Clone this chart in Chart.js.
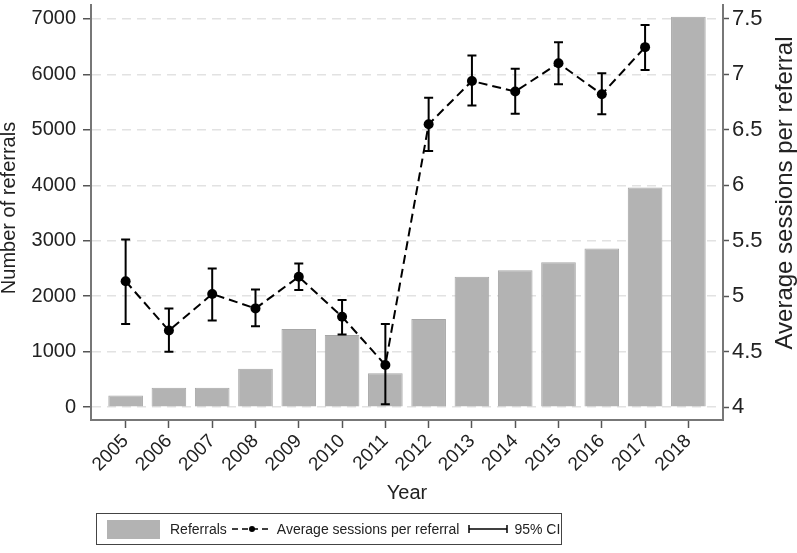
<!DOCTYPE html>
<html>
<head>
<meta charset="utf-8">
<script src="https://cdn.jsdelivr.net/npm/chart.js@4.4.1/dist/chart.umd.min.js"></script>
<style>
    html, body { margin: 0; padding: 0; background: #fff; }
    #wrap { position: relative; width: 797px; height: 553px; }
    #legend {
        position: absolute; left: 96px; top: 513px; width: 464px; height: 30px;
        border: 1px solid #444; display: flex; align-items: center; white-space: nowrap;
        font-family: "Liberation Sans", Arial, sans-serif; font-size: 14px; color: #222;
        box-sizing: content-box;
    }
    #legend .swatch { width: 53px; height: 19px; background: #b3b3b3; margin-left: 10px; margin-right: 10px; }
    #legend svg { display: block; }
</style>
</head>
<body>
<div id="wrap">
    <canvas id="chart"></canvas>
    <div id="legend">
        <div class="swatch"></div>
        <span>Referrals</span>
        <svg width="42" height="12" style="margin: 0 4px"><line x1="1" y1="6" x2="41" y2="6" stroke="#000" stroke-width="1.5" stroke-dasharray="6,4"/><circle cx="21" cy="6" r="3" fill="#000"/></svg>
        <span>Average sessions per referral</span>
        <svg width="40" height="12" style="margin: 0 6px 0 9px"><line x1="1" y1="6" x2="39" y2="6" stroke="#000" stroke-width="1.5"/><line x1="1" y1="2" x2="1" y2="10" stroke="#000" stroke-width="1.5"/><line x1="39" y1="2" x2="39" y2="10" stroke="#000" stroke-width="1.5"/></svg>
        <span>95% CI</span>
    </div>
</div>
<script>
const years = [2005, 2006, 2007, 2008, 2009, 2010, 2011, 2012, 2013, 2014, 2015, 2016, 2017, 2018];
const referrals = [210, 350, 350, 690, 1410, 1300, 610, 1590, 2350, 2470, 2610, 2860, 3960, 7040];
const sessionYears = [2005, 2006, 2007, 2008, 2009, 2010, 2011, 2012, 2013, 2014, 2015, 2016, 2017];
const avgSessions = [5.135, 4.69, 5.02, 4.89, 5.175, 4.815, 4.38, 6.55, 6.94, 6.845, 7.1, 6.82, 7.245];
const ciLow = [4.75, 4.5, 4.78, 4.73, 5.055, 4.655, 4.025, 6.31, 6.72, 6.645, 6.91, 6.64, 7.04];
const ciHigh = [5.51, 4.89, 5.25, 5.06, 5.295, 4.965, 4.75, 6.79, 7.17, 7.05, 7.29, 7.01, 7.445];
const leftTicks = [0, 1000, 2000, 3000, 4000, 5000, 6000, 7000];
const rightTicks = [4, 4.5, 5, 5.5, 6, 6.5, 7, 7.5];

const FONT = '"Liberation Sans", Arial, sans-serif';
Chart.defaults.font.family = FONT;
Chart.defaults.color = '#222';

const errorBars = {
    id: 'errorBars',
    afterDatasetsDraw(chart) {
        const ctx = chart.ctx;
        const xs = chart.scales.x, ys = chart.scales.y2;
        ctx.save();
        ctx.strokeStyle = '#000';
        ctx.lineWidth = 2;
        sessionYears.forEach((yr, i) => {
            const x = xs.getPixelForValue(yr);
            const lo = ys.getPixelForValue(ciLow[i]);
            const hi = ys.getPixelForValue(ciHigh[i]);
            ctx.beginPath();
            ctx.moveTo(x, lo); ctx.lineTo(x, hi);
            ctx.moveTo(x - 4.5, lo); ctx.lineTo(x + 4.5, lo);
            ctx.moveTo(x - 4.5, hi); ctx.lineTo(x + 4.5, hi);
            ctx.stroke();
        });
        ctx.restore();
    }
};

// y titles drawn by hand, both read bottom-to-top
const axisTitles = {
    id: 'axisTitles',
    afterDraw(chart) {
        const ctx = chart.ctx;
        const put = (text, size, x, y) => {
            ctx.save();
            ctx.font = size + 'px ' + FONT;
            ctx.fillStyle = '#222';
            ctx.textAlign = 'center';
            ctx.textBaseline = 'middle';
            ctx.translate(x, y);
            ctx.rotate(-Math.PI / 2);
            ctx.fillText(text, 0, 0);
            ctx.restore();
        };
        put('Number of referrals', 20, 9, 208);
        put('Average sessions per referral', 24, 785, 193);
    }
};

const fixBox = (w, h) => (s) => {
    if (w !== null) s.width = w;
    if (h !== null) s.height = h;
    s.paddingTop = 0; s.paddingBottom = 0; s.paddingLeft = 0; s.paddingRight = 0;
};

new Chart(document.getElementById('chart'), {
    data: {
        datasets: [{
            type: 'line',
            label: 'Average sessions per referral',
            data: sessionYears.map((x, i) => ({ x: x, y: avgSessions[i] })),
            yAxisID: 'y2',
            borderColor: '#000',
            borderWidth: 2,
            borderDash: [9, 5],
            pointRadius: 5,
            pointBackgroundColor: '#000',
            pointBorderWidth: 0,
            tension: 0,
            order: 0
        }, {
            type: 'bar',
            label: 'Referrals',
            data: years.map((x, i) => ({ x: x, y: referrals[i] })),
            yAxisID: 'y',
            backgroundColor: '#b3b3b3',
            borderColor: '#a6a6a6',
            borderWidth: 1,
            barPercentage: 1,
            categoryPercentage: 0.8,
            order: 1
        }]
    },
    options: {
        responsive: true,
        maintainAspectRatio: false,
        animation: false,
        layout: { padding: { top: 0, left: 0, right: 0, bottom: 44 } },
        plugins: { legend: { display: false }, tooltip: { enabled: false } },
        scales: {
            x: {
                type: 'linear',
                offset: false,
                min: 2004.2,
                max: 2018.8,
                afterBuildTicks: (s) => { s.ticks = years.map(v => ({ value: v })); },
                afterFit: fixBox(null, 89),
                ticks: { callback: (v) => String(v), minRotation: 45, maxRotation: 45, font: { size: 19 }, padding: 2, autoSkip: false },
                grid: { offset: false, drawOnChartArea: false, tickLength: 8, tickColor: '#555', tickWidth: 1.5 },
                border: { color: '#777', width: 2 },
                title: { display: true, text: 'Year', font: { size: 20 }, color: '#222' }
            },
            y: {
                position: 'left',
                min: -232,
                max: 7250,
                afterBuildTicks: (s) => { s.ticks = leftTicks.map(v => ({ value: v })); },
                afterFit: fixBox(91, null),
                ticks: { callback: (v) => String(v), font: { size: 20 }, padding: 7 },
                grid: { color: '#e2e2e2', lineWidth: 1.5, tickLength: 8, tickColor: '#555', tickWidth: 1.5 },
                border: { color: '#777', width: 2, dash: [9, 6] }
            },
            y2: {
                position: 'right',
                min: 3.884,
                max: 7.625,
                afterBuildTicks: (s) => { s.ticks = rightTicks.map(v => ({ value: v })); },
                afterFit: fixBox(74, null),
                ticks: { callback: (v) => String(v), font: { size: 22 }, padding: 3 },
                grid: { drawOnChartArea: false, tickLength: 6, tickColor: '#555', tickWidth: 1.5 },
                border: { color: '#777', width: 2 }
            }
        }
    },
    plugins: [errorBars, axisTitles]
});
</script>
</body>
</html>
